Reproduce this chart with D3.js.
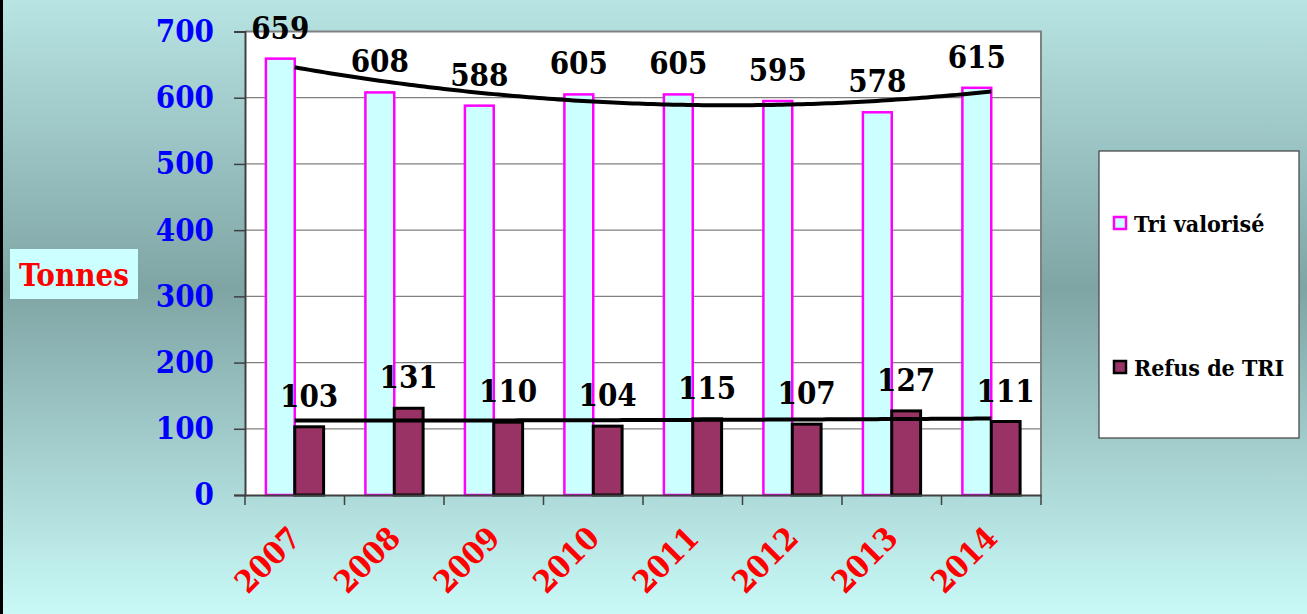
<!DOCTYPE html>
<html>
<head>
<meta charset="utf-8">
<script src="https://cdn.jsdelivr.net/npm/d3@7/dist/d3.min.js"></script>
<style>
  html, body { margin: 0; padding: 0; overflow: hidden; }
  svg { display: block; }
  svg text { font-family: "DejaVu Serif Condensed", "DejaVu Serif"; font-stretch: condensed; font-weight: bold; }
</style>
</head>
<body>
<svg id="chart" width="1307" height="614"></svg>
<script>

var years = ["2007", "2008", "2009", "2010", "2011", "2012", "2013", "2014"];
var triValorise = [659, 608, 588, 605, 605, 595, 578, 615];
var refusTri = [103, 131, 110, 104, 115, 107, 127, 111];
var yTicks = [0, 100, 200, 300, 400, 500, 600, 700];
var seriesNames = ["Tri valorisé", "Refus de TRI"];

var width = 1307,
    height = 614;

var margin = {top: 31.5, right: 266, bottom: 119, left: 245};

var svg = d3.select("#chart");

// background gradient
var defs = svg.append("defs");
var grad = defs.append("linearGradient")
    .attr("id", "bg")
    .attr("x1", 0).attr("y1", 0).attr("x2", 0).attr("y2", 1);
grad.append("stop").attr("offset", 0).attr("stop-color", "#b8e4e4");
grad.append("stop").attr("offset", 0.47).attr("stop-color", "#7fa4a4");
grad.append("stop").attr("offset", 1).attr("stop-color", "#c9faf8");

svg.append("rect")
    .attr("width", width).attr("height", height)
    .attr("fill", "url(#bg)");
svg.append("rect")
    .attr("width", 3).attr("height", height)
    .attr("fill", "#000");

var xScale = d3.scaleBand()
    .domain(years)
    .range([margin.left, width - margin.right]);

var yScale = d3.scaleLinear()
    .domain([0, 700])
    .range([height - margin.bottom, margin.top]);

var x0 = xScale.range()[0], x1 = xScale.range()[1];
var yBottom = yScale(0), yTop = yScale(700);

// plot area
svg.append("rect")
    .attr("x", x0).attr("y", yTop)
    .attr("width", x1 - x0).attr("height", yBottom - yTop)
    .attr("fill", "#fff");

// gridlines
svg.append("g")
  .selectAll("line")
    .data(yTicks.slice(1, -1))
  .enter().append("line")
    .attr("x1", x0).attr("x2", x1)
    .attr("y1", function(d) { return yScale(d); })
    .attr("y2", function(d) { return yScale(d); })
    .style("stroke", "#808080")
    .style("stroke-width", 1.3);

// frame top / right
svg.append("path")
    .attr("d", "M" + x0 + "," + yTop + "H" + x1 + "V" + yBottom)
    .style("fill", "none")
    .style("stroke", "#808080")
    .style("stroke-width", 2);

var bw = xScale.bandwidth();
var barW = bw * 0.29;
var gap = (bw - 2 * barW) / 2;

var tri = years.map(function(y, i) { return [y, triValorise[i]]; });
var ref = years.map(function(y, i) { return [y, refusTri[i]]; });

svg.append("g").selectAll("rect")
    .data(tri)
  .enter().append("rect")
    .attr("x", function(d) { return xScale(d[0]) + gap; })
    .attr("y", function(d) { return yScale(d[1]); })
    .attr("width", barW)
    .attr("height", function(d) { return yBottom - yScale(d[1]); })
    .style("fill", "#ccffff")
    .style("stroke", "#ff00ff")
    .style("stroke-width", 2.5);

svg.append("g").selectAll("rect")
    .data(ref)
  .enter().append("rect")
    .attr("x", function(d) { return xScale(d[0]) + gap + barW; })
    .attr("y", function(d) { return yScale(d[1]); })
    .attr("width", barW)
    .attr("height", function(d) { return yBottom - yScale(d[1]); })
    .style("fill", "#993366")
    .style("stroke", "#000")
    .style("stroke-width", 3);

// axes
var yAxis = d3.axisLeft(yScale).tickValues(yTicks).tickSize(11).tickFormat(d3.format("d")).tickPadding(20);
var gy = svg.append("g")
    .attr("transform", "translate(" + x0 + ",0)")
    .call(yAxis)
    .attr("font-family", null);
gy.select(".domain").style("stroke", "#404040").style("stroke-width", 2);
gy.selectAll(".tick line").style("stroke", "#404040").style("stroke-width", 1.5);
gy.selectAll(".tick text")
    .attr("fill", "#0000ff")
    .style("font-size", "31px");

var xAxis = d3.axisBottom(xScale).tickSize(0).tickFormat("");
var gx = svg.append("g")
    .attr("transform", "translate(0," + yBottom + ")")
    .call(xAxis);
gx.select(".domain").style("stroke", "#404040").style("stroke-width", 2);
gx.selectAll(".tick").remove();

// category boundary ticks
svg.append("g").selectAll("line")
    .data(years.concat(["end"]))
  .enter().append("line")
    .attr("x1", function(d) { return d === "end" ? x1 : xScale(d); })
    .attr("x2", function(d) { return d === "end" ? x1 : xScale(d); })
    .attr("y1", yBottom).attr("y2", yBottom + 10)
    .style("stroke", "#404040")
    .style("stroke-width", 1.5);

// year labels
svg.append("g").selectAll("text")
    .data(years)
  .enter().append("text")
    .attr("transform", function(d) {
      return "translate(" + (xScale(d) + bw / 2 + 8) + "," + (yBottom + 45) + ") rotate(-45)";
    })
    .attr("text-anchor", "end")
    .attr("fill", "#ff0000")
    .style("font-size", "31px")
    .text(function(d) { return d; });

// polynomial (order 2) trend, least squares
function polyFit(vals) {
  var n = vals.length, m = (n - 1) / 2;
  var s2 = 0, s4 = 0, sy = 0, sty = 0, st2y = 0;
  vals.forEach(function(v, i) {
    var t = i - m;
    s2 += t * t; s4 += t * t * t * t;
    sy += v; sty += t * v; st2y += t * t * v;
  });
  var c = (st2y - s2 * sy / n) / (s4 - s2 * s2 / n);
  var a = (sy - c * s2) / n;
  var b = sty / s2;
  return function(i) { var t = i - m; return a + b * t + c * t * t; };
}

function trendPoints(vals) {
  var f = polyFit(vals);
  return d3.range(0, vals.length - 1 + 0.001, 0.05).map(function(i) {
    return [xScale(years[0]) + bw / 2 + i * bw, yScale(f(i))];
  });
}

svg.append("g").selectAll("path")
    .data([trendPoints(triValorise), trendPoints(refusTri)])
  .enter().append("path")
    .attr("d", d3.line())
    .style("fill", "none")
    .style("stroke", "#000")
    .style("stroke-width", 4);

// value labels
svg.append("g").selectAll("text")
    .data(tri)
  .enter().append("text")
    .attr("x", function(d) { return xScale(d[0]) + gap + barW / 2; })
    .attr("y", function(d) { return yScale(d[1]) - 20; })
    .attr("text-anchor", "middle")
    .style("font-size", "31px")
    .text(function(d) { return d[1]; });

svg.append("g").selectAll("text")
    .data(ref)
  .enter().append("text")
    .attr("x", function(d) { return xScale(d[0]) + gap + barW * 1.5; })
    .attr("y", function(d) { return yScale(d[1]) - 20; })
    .attr("text-anchor", "middle")
    .style("font-size", "31px")
    .text(function(d) { return d[1]; });

// axis title
svg.append("rect")
    .attr("x", 10).attr("y", 249)
    .attr("width", 128).attr("height", 50)
    .attr("fill", "#ccffff");
svg.append("text")
    .attr("x", 74).attr("y", 286)
    .attr("text-anchor", "middle")
    .attr("fill", "#ff0000")
    .style("font-size", "31px")
    .text("Tonnes");

// legend
var legend = svg.append("g").attr("transform", "translate(1099,151)");
legend.append("rect")
    .attr("width", 200).attr("height", 287)
    .attr("fill", "#fff")
    .style("stroke", "#404040")
    .style("stroke-width", 1.2);

var legendItems = legend.selectAll(".item")
    .data(seriesNames)
  .enter().append("g")
    .attr("class", "item")
    .attr("transform", function(d, i) { return "translate(0," + (i === 0 ? 81 : 225) + ")"; });

legendItems.append("rect")
    .attr("x", 15).attr("y", -15)
    .attr("width", 12).attr("height", 12)
    .style("fill", function(d, i) { return i === 0 ? "#ccffff" : "#993366"; })
    .style("stroke", function(d, i) { return i === 0 ? "#ff00ff" : "#000"; })
    .style("stroke-width", 2.5);

legendItems.append("text")
    .attr("x", 35).attr("y", 0)
    .attr("fill", "#000")
    .style("font-size", "23px")
    .text(function(d) { return d; });

</script>
</body>
</html>
